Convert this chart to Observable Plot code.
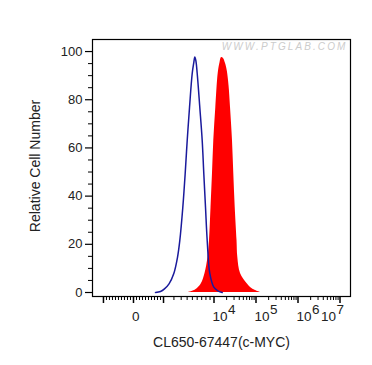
<!DOCTYPE html>
<html><head><meta charset="utf-8">
<script src="https://cdn.jsdelivr.net/npm/d3@7"></script>
<script src="https://cdn.jsdelivr.net/npm/@observablehq/plot@0.6"></script>
<style>body{margin:0;background:#fff}</style>
</head><body><div id="chart"></div>
<script>
// Channel position in display "decades" (10^4 = 4, 10^5 = 5, ...), counts in % of max
const bluePos = [2.607, 2.726, 2.821, 2.929, 3.043, 3.131, 3.186, 3.257, 3.314, 3.362, 3.417, 3.481, 3.519, 3.543, 3.567, 3.600, 3.662, 3.719, 3.757, 3.798, 3.838, 3.900, 3.995, 4.083, 4.195];
const blueCount = [0, 0.4, 1.5, 3.6, 7.9, 14.6, 21.6, 35.3, 49.4, 63.1, 76.8, 90.9, 95.4, 97.7, 96.3, 90.9, 76.8, 63.1, 49.4, 35.3, 21.6, 7.9, 2.2, 0.8, 0];
const redPos = [3.393, 3.488, 3.607, 3.702, 3.786, 3.857, 3.893, 3.929, 3.964, 3.995, 4.043, 4.100, 4.143, 4.179, 4.226, 4.274, 4.314, 4.357, 4.393, 4.440, 4.471, 4.505, 4.548, 4.567, 4.631, 4.790, 4.869, 4.988, 5.107];
const redCount = [0, 0.5, 1.7, 3.7, 7.9, 14.5, 21.6, 35.3, 49.4, 63.1, 76.8, 90.9, 95.4, 97.5, 97.1, 95, 92.1, 85.9, 76.8, 63.1, 49.4, 35.3, 21.6, 14.5, 7.9, 3.6, 2.1, 0.8, 0];

// Tick values (fluorescence intensity)
const xMajorValues = [-1000, 0, 1000, 1e4, 1e5, 1e6, 1e7];
const xLabelValues = [0, 1e4, 1e5, 1e6, 1e7];
const xLabelBase = ["0", "10", "10", "10", "10"];
const xLabelExp = ["", "4", "5", "6", "7"];
const yMajor = [0, 20, 40, 60, 80, 100];
const yMinor = [5, 10, 15, 25, 30, 35, 45, 50, 55, 65, 70, 75, 85, 90, 95];
const xTitle = "CL650-67447(c-MYC)";
const yTitle = "Relative Cell Number";
const watermark = "WWW.PTGLAB.COM";

// biexponential-style display transform (intensity -> display decades)
function toPos(v) {
  if (v >= 1e4) return Math.log10(v);
  if (Math.abs(v) <= 1000) return 2.083 + v / 1000 * 0.715;
  const f = 0.5 * Math.log10(v / 1000) + 0.5 * (v - 1000) / 9000;
  return 2.798 + f * (4 - 2.798);
}
const xMinorValues = [];
for (let v = -900; v <= 900; v += 100) if (v !== 0) xMinorValues.push(v);
for (let k = 2; k <= 9; k++) xMinorValues.push(k * 1e3, k * 1e4, k * 1e5, k * 1e6);

const blue = bluePos.map((x, i) => ({x, y: blueCount[i]}));
const red = redPos.map((x, i) => ({x, y: redCount[i]}));
const labels = xLabelValues.map((v, i) => ({x: toPos(v), base: xLabelBase[i], exp: xLabelExp[i]}));

const X0 = 1.107, X1 = 7.25, Y0 = -1.66, Y1 = 105;
const mL = 92, mR = 22, mT = 39, mB = 69, W = 372, H = 365;
const kx = (W - mL - mR) / (X1 - X0);
const ky = (H - mT - mB) / (Y1 - Y0);

const plot = Plot.plot({
  width: W, height: H,
  marginLeft: mL, marginRight: mR, marginTop: mT, marginBottom: mB,
  style: {fontFamily: "Liberation Sans, Arial, sans-serif", fontSize: "13px", background: "white", color: "black"},
  x: {domain: [X0, X1], axis: null},
  y: {domain: [Y0, Y1], axis: null},
  marks: [
    Plot.areaY(red, {x: "x", y: "y", fill: "#ff0000", curve: "catmull-rom"}),
    Plot.line(blue, {x: "x", y: "y", stroke: "#1a1a9c", strokeWidth: 1.5, curve: "catmull-rom"}),
    Plot.frame({stroke: "black", strokeWidth: 1.2}),
    // y ticks
    Plot.ruleY(yMajor, {y: d => d, x1: X0, x2: X0 - 7 / kx, stroke: "black", strokeWidth: 1.2}),
    Plot.ruleY(yMinor, {y: d => d, x1: X0, x2: X0 - 4 / kx, stroke: "black", strokeWidth: 1}),
    Plot.text(yMajor, {x: X0, y: d => d, text: d => String(d), textAnchor: "end", dx: -10, fontSize: 13, fill: "#222"}),
    // x ticks
    Plot.ruleX(xMajorValues, {x: d => toPos(d), y1: Y0, y2: Y0 - 7 / ky, stroke: "black", strokeWidth: 1.5}),
    Plot.ruleX(xMinorValues, {x: d => toPos(d), y1: Y0, y2: Y0 - 4 / ky, stroke: "black", strokeWidth: 1}),
    Plot.text(labels.slice(0, 4), {x: "x", y: () => Y0, text: "base", textAnchor: "start", dx: -1.5, dy: 20, fontSize: 13.5, fill: "#222"}),
    Plot.text(labels.slice(0, 4), {x: "x", y: () => Y0, text: "exp", textAnchor: "start", dx: 14, dy: 13, fontSize: 13.5, fill: "#222"}),
    Plot.text(labels.slice(4), {x: "x", y: () => Y0, text: "base", textAnchor: "start", dx: -19, dy: 20, fontSize: 13.5, fill: "#222"}),
    Plot.text(labels.slice(4), {x: "x", y: () => Y0, text: "exp", textAnchor: "start", dx: -3.5, dy: 13, fontSize: 13.5, fill: "#222"}),
    // titles
    Plot.text([xTitle], {text: d => d, frameAnchor: "bottom", textAnchor: "middle", lineAnchor: "middle", dy: 46, fontSize: 14, fill: "#222"}),
    Plot.text([yTitle], {text: d => d, frameAnchor: "left", textAnchor: "middle", lineAnchor: "middle", dx: -57, dy: -2, rotate: -90, fontSize: 14, fill: "#222"}),
    Plot.text([watermark], {text: d => d, frameAnchor: "top-right", textAnchor: "end", lineAnchor: "middle", dx: -3, dy: 7, fontSize: 10, fontStyle: "italic", fill: "#cccccc"})
  ]
});
d3.select(plot).selectAll("text").filter(function() { return this.textContent === watermark; })
  .attr("letter-spacing", "2.1px");
document.getElementById("chart").appendChild(plot);
</script>
</body></html>
